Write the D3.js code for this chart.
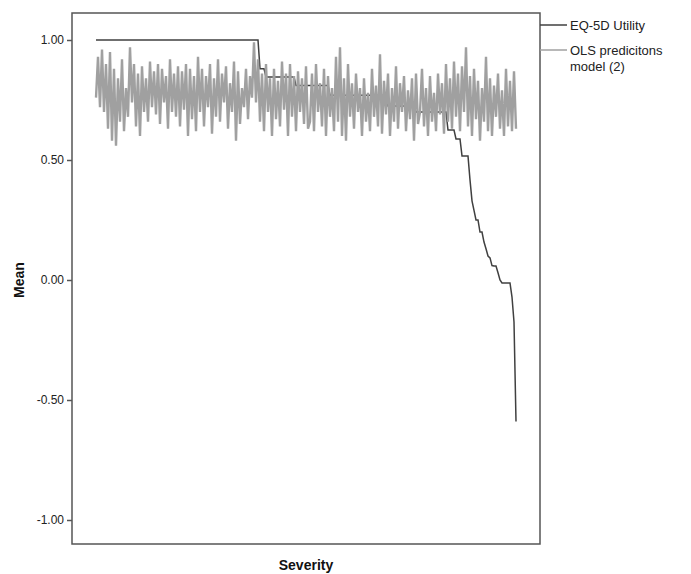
<!doctype html>
<html>
  <head>
    <meta charset="utf-8">
    <script src="https://cdn.jsdelivr.net/npm/d3@7/dist/d3.min.js"></script>
    <style>
      body { margin: 0; background: #fff; }
      text { font-family: "Liberation Sans", Arial, sans-serif; }
    </style>
  </head>
  <body>
    <div id="chart"></div>
    <script>
      // EQ-5D mean utility per severity level (sorted)
      const eq5d = [
        1.00, 1.00, 1.00, 1.00, 1.00, 1.00, 1.00, 1.00, 1.00, 1.00,
        1.00, 1.00, 1.00, 1.00, 1.00, 1.00, 1.00, 1.00, 1.00, 1.00,
        1.00, 1.00, 1.00, 1.00, 1.00, 1.00, 1.00, 1.00, 1.00, 1.00,
        1.00, 1.00, 1.00, 1.00, 1.00, 1.00, 1.00, 1.00, 1.00, 1.00,
        1.00, 1.00, 1.00, 1.00, 1.00, 1.00, 1.00, 1.00, 1.00, 1.00,
        1.00, 1.00, 1.00, 1.00, 1.00, 1.00, 1.00, 1.00, 1.00, 1.00,
        1.00, 1.00, 1.00, 1.00, 1.00, 1.00, 1.00, 1.00, 1.00, 1.00,
        1.00, 1.00, 1.00, 1.00, 1.00, 1.00, 1.00, 1.00, 1.00, 1.00,
        1.00, 1.00, 0.88, 0.88, 0.88, 0.846, 0.846, 0.846, 0.846, 0.846,
        0.846, 0.846, 0.846, 0.846, 0.846, 0.846, 0.846, 0.846, 0.846, 0.846,
        0.81, 0.81, 0.81, 0.81, 0.81, 0.81, 0.81, 0.81, 0.81, 0.81,
        0.81, 0.81, 0.81, 0.81, 0.81, 0.81, 0.81, 0.77, 0.77, 0.77,
        0.77, 0.77, 0.77, 0.77, 0.77, 0.77, 0.77, 0.77, 0.77, 0.77,
        0.77, 0.77, 0.77, 0.77, 0.77, 0.77, 0.77, 0.77, 0.77, 0.77,
        0.77, 0.77, 0.77, 0.77, 0.77, 0.77, 0.725, 0.725, 0.725, 0.725,
        0.725, 0.725, 0.725, 0.725, 0.725, 0.725, 0.725, 0.725, 0.725, 0.725,
        0.70, 0.70, 0.70, 0.70, 0.70, 0.70, 0.70, 0.70, 0.70, 0.70,
        0.70, 0.70, 0.70, 0.70, 0.70, 0.70, 0.625, 0.625, 0.625, 0.625,
        0.5875, 0.5875, 0.5875, 0.517, 0.517, 0.517, 0.517, 0.417, 0.33, 0.29,
        0.25, 0.25, 0.20, 0.20, 0.158, 0.13, 0.10, 0.092, 0.06, 0.058,
        0.058, 0.03, 0.00, -0.0125, -0.0125, -0.0125, -0.0125, -0.0125, -0.071, -0.175,
        -0.59
      ];

      // OLS predictions, model (2)
      const ols = [
        0.76, 0.93, 0.72, 0.96, 0.70, 0.90, 0.63, 0.95, 0.58, 0.88,
        0.56, 0.84, 0.66, 0.92, 0.62, 0.80, 0.68, 0.97, 0.74, 0.90,
        0.64, 0.86, 0.60, 0.89, 0.70, 0.84, 0.66, 0.91, 0.72, 0.87,
        0.69, 0.90, 0.65, 0.88, 0.74, 0.85, 0.63, 0.92, 0.70, 0.86,
        0.68, 0.89, 0.64, 0.87, 0.71, 0.90, 0.60, 0.88, 0.67, 0.85,
        0.62, 0.93,
        0.70, 0.88, 0.64, 0.85, 0.72, 0.90, 0.61, 0.84, 0.68, 0.92,
        0.66, 0.86, 0.74, 0.89, 0.63, 0.82, 0.70, 0.91, 0.58, 0.87,
        0.65, 0.80, 0.72, 0.88, 0.67, 0.85, 0.76, 0.99, 0.74, 0.92,
        0.66, 0.86, 0.62, 0.90, 0.70, 0.84, 0.60, 0.88, 0.67, 0.83,
        0.64, 0.91, 0.71, 0.86, 0.60, 0.90, 0.68, 0.85, 0.62, 0.87,
        0.70, 0.84, 0.65, 0.89, 0.63,
        0.66, 0.86, 0.62, 0.90, 0.70, 0.82, 0.64, 0.88, 0.60, 0.85,
        0.68, 0.80, 0.62, 0.93, 0.66, 0.97, 0.60, 0.84, 0.58, 0.90,
        0.68, 0.82, 0.63, 0.86, 0.70, 0.80, 0.60, 0.84, 0.66, 0.78,
        0.62, 0.88, 0.68, 0.81, 0.64, 0.94, 0.61, 0.83, 0.69, 0.86,
        0.60, 0.80, 0.66, 0.89, 0.63, 0.82, 0.70, 0.85, 0.62, 0.79,
        0.67, 0.84, 0.58, 0.86, 0.65,
        0.70, 0.88, 0.64, 0.80, 0.60, 0.85, 0.66, 0.78, 0.62, 0.86,
        0.69, 0.82, 0.61, 0.90, 0.66, 0.84, 0.63, 0.91, 0.68, 0.86,
        0.62, 0.89, 0.70, 0.97, 0.64, 0.85, 0.60, 0.88, 0.67, 0.83,
        0.58, 0.80, 0.66, 0.93, 0.62, 0.84, 0.60, 0.81, 0.68, 0.86,
        0.63, 0.79, 0.60, 0.88, 0.64, 0.83, 0.62, 0.87, 0.63
      ];

      const yTicks = [-1, -0.5, 0, 0.5, 1];
      const seriesNames = ["EQ-5D Utility", "OLS predicitons|model (2)"];
      const seriesColors = ["#404040", "#a0a0a0"];

      const width = 691, height = 574;
      const frame = { left: 72, top: 13, right: 540, bottom: 544 };

      const svg = d3.select("#chart").append("svg")
        .attr("width", width)
        .attr("height", height);

      const x = d3.scaleLinear()
        .domain([0, ols.length - 1])
        .range([96, 516]);

      const y = d3.scaleLinear()
        .domain([-1, 1])
        .range([520, 40]);

      const fmt = d3.format(".2f");

      // y axis ticks
      const yAxis = svg.append("g")
        .attr("transform", "translate(" + frame.left + ",0)")
        .call(d3.axisLeft(y).tickValues(yTicks)
          .tickFormat(d => fmt(d).replace("\u2212", "-"))
          .tickSize(5).tickPadding(3));
      yAxis.select(".domain").remove();
      yAxis.selectAll(".tick line").attr("stroke", "#555").attr("stroke-width", 1.5);
      yAxis.selectAll(".tick text")
        .attr("fill", "#222")
        .style("font-size", "12px")
        .style("font-family", "'Liberation Sans', Arial, sans-serif");

      const line = d3.line()
        .x((d, i) => x(i))
        .y(d => y(d));

      svg.append("path")
        .datum(eq5d)
        .attr("d", line)
        .attr("fill", "none")
        .attr("stroke", seriesColors[0])
        .attr("stroke-width", 1.5);

      svg.append("path")
        .datum(ols)
        .attr("d", line)
        .attr("fill", "none")
        .attr("stroke", seriesColors[1])
        .attr("stroke-width", 2.4)
        .attr("stroke-linejoin", "bevel");

      // frame
      svg.append("rect")
        .attr("x", frame.left)
        .attr("y", frame.top)
        .attr("width", frame.right - frame.left)
        .attr("height", frame.bottom - frame.top)
        .attr("fill", "none")
        .attr("stroke", "#555")
        .attr("stroke-width", 1.5);

      // axis titles
      svg.append("text")
        .attr("x", 306)
        .attr("y", 570)
        .attr("text-anchor", "middle")
        .style("font-size", "14px")
        .style("font-weight", "bold")
        .attr("fill", "#111")
        .text("Severity");

      svg.append("text")
        .attr("transform", "translate(24,280) rotate(-90)")
        .attr("text-anchor", "middle")
        .style("font-size", "14px")
        .style("font-weight", "bold")
        .attr("fill", "#111")
        .text("Mean");

      // legend
      const legendY = [25, 50];
      seriesNames.forEach((name, k) => {
        svg.append("line")
          .attr("x1", frame.right)
          .attr("x2", 567)
          .attr("y1", legendY[k])
          .attr("y2", legendY[k])
          .attr("stroke", seriesColors[k])
          .attr("stroke-width", 1.5);
        name.split("|").forEach((part, j) => {
          svg.append("text")
            .attr("x", 570)
            .attr("y", legendY[k] + 5 + j * 16)
            .style("font-size", "13px")
            .attr("fill", "#222")
            .text(part);
        });
      });
    </script>
  </body>
</html>
